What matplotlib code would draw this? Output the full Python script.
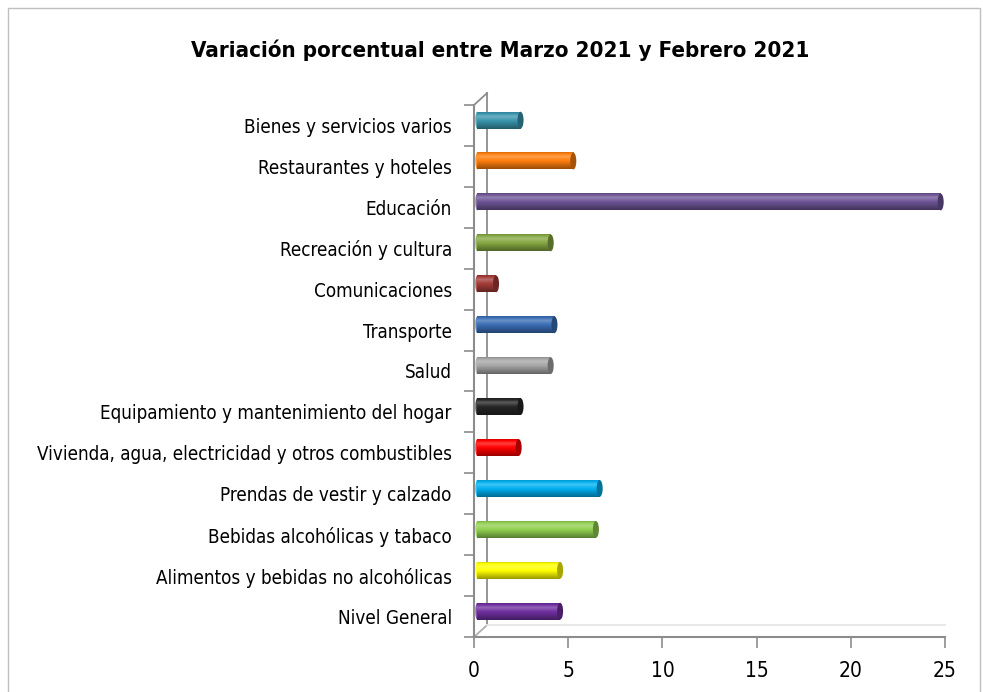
"""Variación porcentual entre Marzo 2021 y Febrero 2021 - barras cilíndricas"""
import matplotlib
matplotlib.use('Agg')
import matplotlib.pyplot as plt
import matplotlib.colors as mcolors
from matplotlib.patches import Ellipse, Rectangle
from matplotlib.lines import Line2D
import numpy as np

# Datos (de abajo hacia arriba)
categorias = [
    "Nivel General",
    "Alimentos y bebidas no alcohólicas",
    "Bebidas alcohólicas y tabaco",
    "Prendas de vestir y calzado",
    "Vivienda, agua, electricidad y otros combustibles",
    "Equipamiento y mantenimiento del hogar",
    "Salud",
    "Transporte",
    "Comunicaciones",
    "Recreación y cultura",
    "Educación",
    "Restaurantes y hoteles",
    "Bienes y servicios varios",
]
valores = [4.4, 4.4, 6.3, 6.5, 2.2, 2.3, 3.9, 4.1, 1.0, 3.9, 24.6, 5.1, 2.3]
colores = ["#7030A0", "#FFFF00", "#92D050", "#00B0F0", "#FF0000", "#262626",
           "#A6A6A6", "#3A6EB5", "#A33B38", "#86A843", "#6E5596", "#FF7F0E",
           "#3A96AE"]
xticks = [0, 5, 10, 15, 20, 25]

plt.rcParams['font.family'] = ['DejaVu Sans']
plt.rcParams['font.stretch'] = 'condensed'

fig = plt.figure(figsize=(9.83, 6.92), dpi=100)
W, H = 983, 692

# marco gris del gráfico
fig.patches.append(Rectangle((8 / W, -0.01), (980 - 8) / W, 1 - 8 / H + 0.01,
                             transform=fig.transFigure, fill=False,
                             edgecolor='#BFBFBF', linewidth=1))

ax = fig.add_axes([474 / W, (H - 637) / H, 471 / W, 532 / H])

alto = 0.41
inicio = 0.17
desp = 0.13  # desplazamiento por profundidad 3D


def sombra(color):
    base = np.array(mcolors.to_rgb(color))
    t = np.linspace(0, 1, 60)
    f = np.interp(t, [0, 0.25, 0.45, 0.75, 1.0], [0.85, 1.25, 1.05, 0.8, 0.6])
    filas = []
    for k in f:
        if k > 1:
            c = base + (1 - base) * (k - 1)
        else:
            c = base * k
        filas.append(np.clip(c, 0, 1))
    return np.array(filas).reshape(-1, 1, 3)


for i, (v, c) in enumerate(zip(valores, colores)):
    yc = i + desp
    img = sombra(c)
    ax.imshow(img, extent=[inicio, inicio + v, yc - alto / 2, yc + alto / 2],
              aspect='auto', origin='upper', zorder=3, interpolation='bilinear')
    oscuro = np.array(mcolors.to_rgb(c)) * 0.65
    ax.add_patch(Ellipse((inicio, yc), 0.2, alto, facecolor=img[20, 0],
                         edgecolor='none', zorder=2.9))
    ax.add_patch(Ellipse((inicio + v, yc), 0.32, alto, facecolor=oscuro,
                         edgecolor='none', zorder=4))

ax.set_xlim(0, 25)
ax.set_ylim(-0.5, 12.5)

# ejes
ax.set_xticks(xticks)
ax.set_xticklabels([str(t) for t in xticks], fontsize=15)
ax.set_yticks(np.arange(len(categorias)))
ax.set_yticklabels(categorias, fontsize=13.5)
ax.set_yticks(np.arange(-0.5, 12.6, 1), minor=True)
ax.tick_params(axis='y', which='major', length=0, pad=16)
ax.tick_params(axis='y', which='minor', length=7, color='#8C8C8C', width=1.2)
ax.tick_params(axis='x', length=8, color='#8C8C8C', width=1.2, pad=9)
for lado in ['top', 'right']:
    ax.spines[lado].set_visible(False)
for lado in ['left', 'bottom']:
    ax.spines[lado].set_color('#8C8C8C')
    ax.spines[lado].set_linewidth(1.5)

# paredes 3D
dx, dy = 0.69, 0.29
gris = '#8C8C8C'
for xs, ys, col in [([0, dx], [12.5, 12.5 + dy], gris),
                    ([dx, dx], [12.5 + dy, -0.5 + dy], gris),
                    ([dx, 0], [-0.5 + dy, -0.5], '#B0B0B0'),
                    ([dx, 25], [-0.5 + dy, -0.5 + dy], '#E6E6E6')]:
    ax.add_line(Line2D(xs, ys, color=col, linewidth=1.3, clip_on=False, zorder=1))

fig.text(500 / W, 1 - 50 / H, "Variación porcentual entre Marzo 2021 y Febrero 2021",
         ha='center', va='center', fontsize=16, fontweight='bold')

fig.savefig('out.png', dpi=100)
